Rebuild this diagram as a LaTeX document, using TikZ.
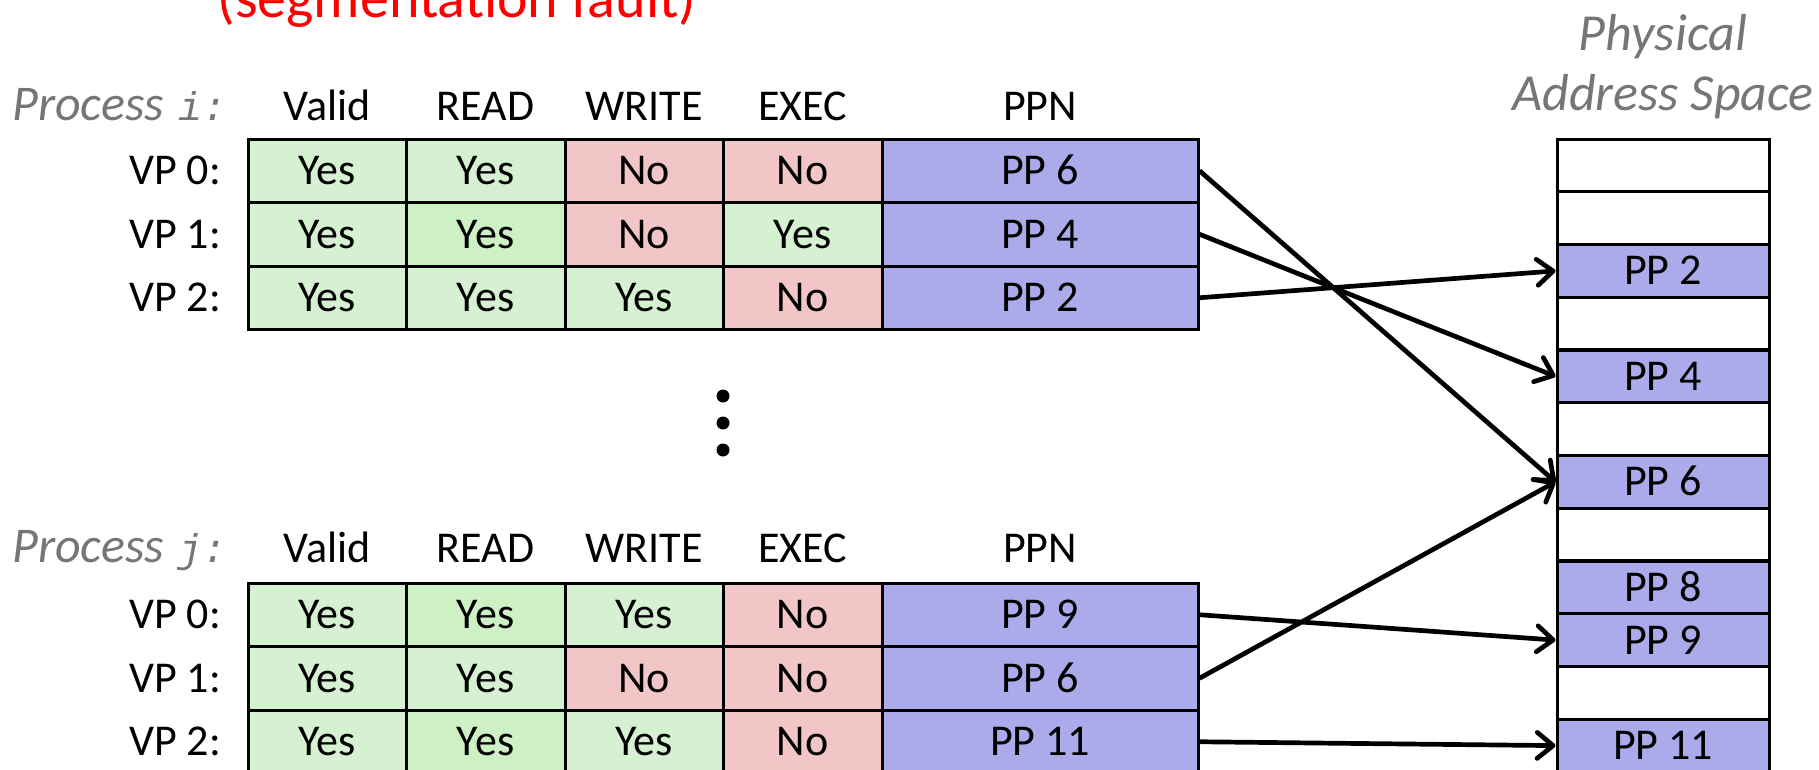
\documentclass[tikz,border=0pt]{standalone}
\usepackage{fontspec}
\setmainfont{Carlito}
\setmonofont{Liberation Mono}
\usetikzlibrary{arrows.meta}
\definecolor{cg}{RGB}{214,241,210}
\definecolor{cgg}{RGB}{205,240,197}
\definecolor{cr}{RGB}{242,198,198}
\definecolor{cb}{RGB}{171,171,235}
\definecolor{lbl}{RGB}{118,118,118}
\definecolor{segred}{RGB}{255,0,0}
\begin{document}
\begin{tikzpicture}[x=1pt,y=-1pt,
  txt/.style={font=\fontsize{44}{50}\selectfont},
  cell/.style={txt, draw, line width=3pt, inner sep=0pt, minimum height=63.5pt, text height=28pt, text depth=0pt},
  c1/.style={cell, minimum width=158pt},
  c2/.style={cell, minimum width=159pt},
  cp/.style={cell, minimum width=316pt, fill=cb},
  pcell/.style={txt, draw, line width=3pt, inner sep=0pt, minimum width=212pt, minimum height=52.75pt, text height=28pt, text depth=0pt, fill=white},
  pfull/.style={pcell, fill=cb},
  hdr/.style={txt, anchor=base, inner sep=0pt},
  rl/.style={txt, anchor=east, inner sep=0pt, text height=28pt, text depth=0pt},
  proc/.style={anchor=base west, inner sep=0pt, text=lbl, font=\fontsize{50}{56}\selectfont\itshape},
  phys/.style={anchor=base, inner sep=0pt, text=lbl, font=\fontsize{52}{58}\selectfont\itshape},
  arr/.style={line width=4.7pt, -{Straight Barb[length=16pt,width=26pt,round]}}
]
\useasboundingbox (0,0) rectangle (1819,769);

% red text (cut off at top, as in the reference)
\node[anchor=base, inner sep=0pt, text=segred, font=\fontsize{58}{64}\selectfont] (seg) at (457,17) {(segmentation fault)};

% ---------------- Process i ----------------
\node[proc] (pi) at (12,120) {Process\hspace{14pt}{\fontsize{40}{44}\selectfont\ttfamily\itshape i:}};
\node[hdr] (hi1) at (327,120) {Valid};
\node[hdr] (hi2) at (485.5,120) {READ};
\node[hdr] (hi3) at (644,120) {WRITE};
\node[hdr] (hi4) at (802.5,120) {EXEC};
\node[hdr] (hi5) at (1040,120) {PPN};

\node[rl] (il0) at (221,170.75) {VP 0:};
\node[rl] (il1) at (221,234.25) {VP 1:};
\node[rl] (il2) at (221,297.75) {VP 2:};

\node[c1,fill=cg] (ia0) at (327,170.75) {Yes};
\node[c2,fill=cg] (ib0) at (485.5,170.75) {Yes};
\node[c1,fill=cr] (ic0) at (644,170.75) {No};
\node[c2,fill=cr] (id0) at (802.5,170.75) {No};
\node[cp] (ip0) at (1040,170.75) {PP 6};

\node[c1,fill=cg] (ia1) at (327,234.25) {Yes};
\node[c2,fill=cgg] (ib1) at (485.5,234.25) {Yes};
\node[c1,fill=cr] (ic1) at (644,234.25) {No};
\node[c2,fill=cg] (id1) at (802.5,234.25) {Yes};
\node[cp] (ip1) at (1040,234.25) {PP 4};

\node[c1,fill=cg] (ia2) at (327,297.75) {Yes};
\node[c2,fill=cg] (ib2) at (485.5,297.75) {Yes};
\node[c1,fill=cg] (ic2) at (644,297.75) {Yes};
\node[c2,fill=cr] (id2) at (802.5,297.75) {No};
\node[cp] (ip2) at (1040,297.75) {PP 2};

% dots
\fill (723,396) circle (6.5pt);
\fill (723,423) circle (6.5pt);
\fill (723,450) circle (6.5pt);

% ---------------- Process j ----------------
\node[proc] (pj) at (12,562) {Process\hspace{14pt}{\fontsize{40}{44}\selectfont\ttfamily\itshape j:}};
\node[hdr] (hj1) at (327,562) {Valid};
\node[hdr] (hj2) at (485.5,562) {READ};
\node[hdr] (hj3) at (644,562) {WRITE};
\node[hdr] (hj4) at (802.5,562) {EXEC};
\node[hdr] (hj5) at (1040,562) {PPN};

\node[rl] (jl0) at (221,614.75) {VP 0:};
\node[rl] (jl1) at (221,678.25) {VP 1:};
\node[rl] (jl2) at (221,741.75) {VP 2:};

\node[c1,fill=cg] (ja0) at (327,614.75) {Yes};
\node[c2,fill=cgg] (jb0) at (485.5,614.75) {Yes};
\node[c1,fill=cg] (jc0) at (644,614.75) {Yes};
\node[c2,fill=cr] (jd0) at (802.5,614.75) {No};
\node[cp] (jp0) at (1040,614.75) {PP 9};

\node[c1,fill=cg] (ja1) at (327,678.25) {Yes};
\node[c2,fill=cg] (jb1) at (485.5,678.25) {Yes};
\node[c1,fill=cr] (jc1) at (644,678.25) {No};
\node[c2,fill=cr] (jd1) at (802.5,678.25) {No};
\node[cp] (jp1) at (1040,678.25) {PP 6};

\node[c1,fill=cg] (ja2) at (327,741.75) {Yes};
\node[c2,fill=cgg] (jb2) at (485.5,741.75) {Yes};
\node[c1,fill=cg] (jc2) at (644,741.75) {Yes};
\node[c2,fill=cr] (jd2) at (802.5,741.75) {No};
\node[cp] (jp2) at (1040,741.75) {PP 11};

% ---------------- Physical address space ----------------
\node[phys] (ph1) at (1663,50) {Physical};
\node[phys] (ph2) at (1663,110) {Address Space};

\node[pcell] (m0) at (1663,165.4) {};
\node[pcell] (m1) at (1663,218.1) {};
\node[pfull] (m2) at (1663,270.9) {PP 2};
\node[pcell] (m3) at (1663,323.6) {};
\node[pfull] (m4) at (1663,376.4) {PP 4};
\node[pcell] (m5) at (1663,429.1) {};
\node[pfull] (m6) at (1663,481.9) {PP 6};
\node[pcell] (m7) at (1663,534.6) {};
\node[pfull] (m8) at (1663,587.4) {PP 8};
\node[pfull] (m9) at (1663,640.1) {PP 9};
\node[pcell] (m10) at (1663,692.9) {};
\node[pfull] (m11) at (1663,745.6) {PP 11};

% ---------------- arrows ----------------
\draw[arr] (ip0.east) -- (m6.west);
\draw[arr] (ip1.east) -- (m4.west);
\draw[arr] (ip2.east) -- (m2.west);
\draw[arr] (jp0.east) -- (m9.west);
\draw[arr] (jp1.east) -- (m6.west);
\draw[arr] (jp2.east) -- (m11.west);
\end{tikzpicture}
\end{document}
